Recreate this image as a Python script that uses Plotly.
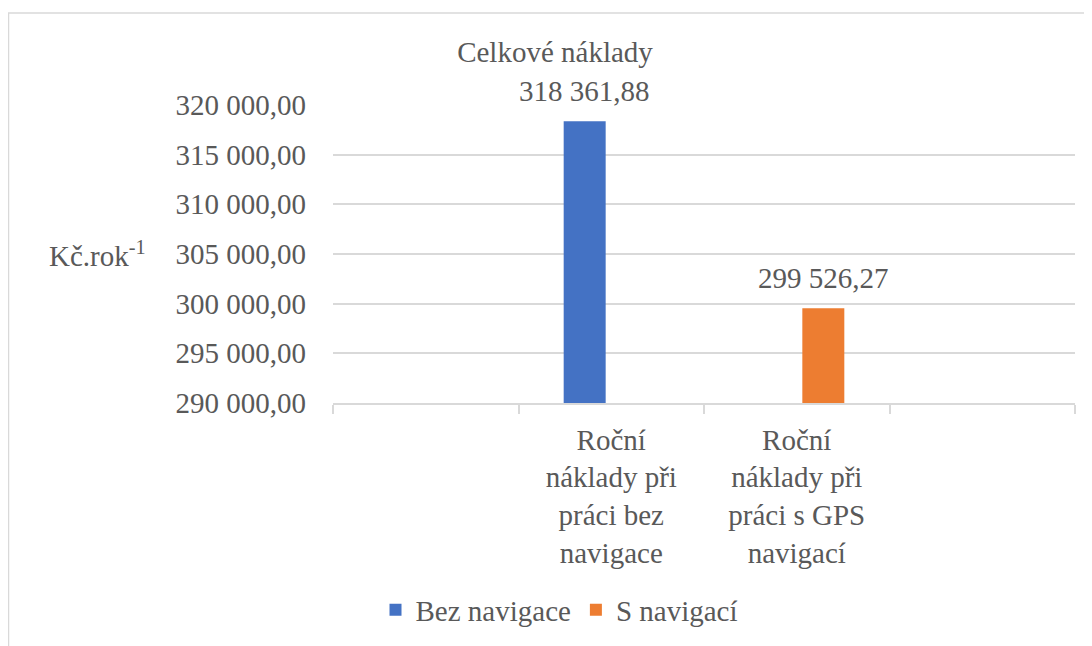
import plotly.graph_objects as go

# ---- data ----
category_positions = [1, 2]
category_labels = ["Roční<br>náklady při<br>práci bez<br>navigace",
                   "Roční<br>náklady při<br>práci s GPS<br>navigací"]
series_names = ["Bez navigace", "S navigací"]
bez_values = [318361.88, None]
s_values = [None, 299526.27]
y_ticks = [290000, 295000, 300000, 305000, 310000, 315000, 320000]
title_text = "Celkové náklady"
y_label = "Kč.rok<sup>-1</sup>"

FONT = "Liberation Serif"
GREY = "#595959"
GRID = "#d9d9d9"
OFF = 8  # page body margin
BARGAP = 0.427

def fnt(size=29):
    return dict(family=FONT, size=size, color=GREY)

fig = go.Figure()
for vals, name, col in [(bez_values, series_names[0], "#4472c4"),
                        (s_values, series_names[1], "#ed7d31")]:
    fig.add_trace(go.Bar(x=category_positions, y=vals, name=name,
                         marker=dict(color=col, line=dict(width=0)),
                         cliponaxis=False))

# value labels above bars (placed at the bar's grouped offset)
slot = (1 - BARGAP) / 2
for i, vals in enumerate([bez_values, s_values]):
    for xp, v in zip(category_positions, vals):
        if v is None:
            continue
        fig.add_annotation(x=xp + (i - 0.5) * slot, y=v, xref="x", yref="y",
                           text=f"{v:,.2f}".replace(",", " ").replace(".", ","),
                           showarrow=False, yanchor="middle", yshift=30,
                           font=fnt())

fig.update_layout(
    width=1092, height=646,
    margin=dict(l=333-OFF, r=1092-(1075-OFF), t=105-OFF, b=646-(403-OFF)),
    paper_bgcolor="white", plot_bgcolor="white",
    separators=", ",
    barmode="group", bargap=BARGAP, bargroupgap=0.21,
    title=dict(text=title_text, x=(555-OFF)/1092, xanchor="center",
               y=1-(52-OFF)/646, yanchor="middle", font=fnt()),
    showlegend=True,
    legend=dict(orientation="h", xref="container", yref="container",
                x=(559-OFF)/1092, xanchor="center", y=1-(610-OFF)/646, yanchor="middle",
                font=fnt(), traceorder="normal", itemwidth=30),
    xaxis=dict(range=[-0.5, 3.5], tickmode="array", tickvals=category_positions,
               ticktext=category_labels, ticks="", showgrid=False, zeroline=False,
               showline=True, linecolor=GRID, linewidth=1.5, ticklabelstandoff=10,
               tickfont=fnt(),
               minor=dict(tickmode="array", tickvals=[-0.5, 0.5, 1.5, 2.5, 3.5],
                          ticks="outside", ticklen=9, tickcolor=GRID, tickwidth=1.5,
                          showgrid=False)),
    yaxis=dict(range=[290000, 320000], tickmode="array", tickvals=y_ticks,
               tickformat=",.2f", showgrid=True, gridcolor=GRID, gridwidth=1.5,
               zeroline=False, showline=False, ticks="", ticklabelstandoff=26,
               tickfont=fnt()),
)

fig.add_annotation(text=y_label, xref="paper", yref="y",
                   x=(148-333)/742, y=305000, xanchor="right", yanchor="middle",
                   showarrow=False, font=fnt())

# outer chart border (only top and left visible)
fig.add_shape(type="rect", xref="paper", yref="paper",
              x0=(8.5-333)/742, x1=(1110-333)/742, y0=(403-660)/298, y1=(403-13)/298,
              line=dict(color=GRID, width=1.5), fillcolor="rgba(0,0,0,0)", layer="below")

fig.write_html("out.html")
